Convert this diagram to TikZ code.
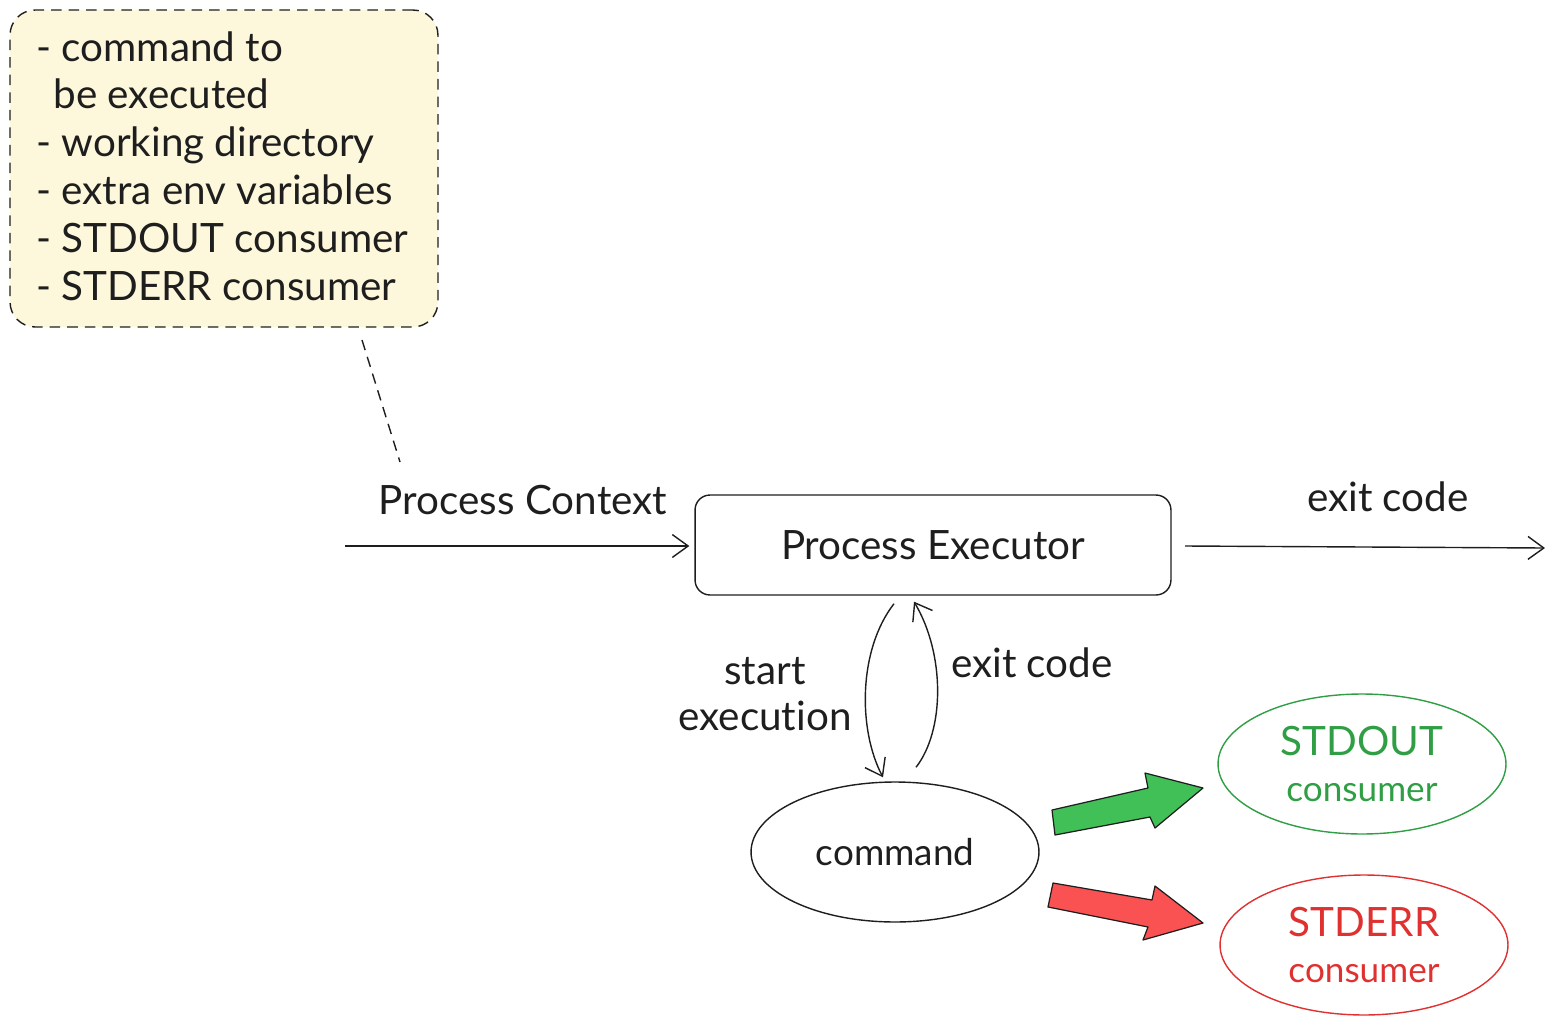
\documentclass[tikz,border=0pt]{standalone}
\usepackage{fontspec}
\setmainfont{Lato}[Ligatures={NoCommon}]
\usetikzlibrary{shapes.geometric,arrows.meta,calc}
\definecolor{notefill}{HTML}{FDF8DB}
\definecolor{okgreen}{HTML}{2F9E44}
\definecolor{okfill}{HTML}{40C057}
\definecolor{errred}{HTML}{E03131}
\definecolor{errfill}{HTML}{FA5252}
\definecolor{ink}{HTML}{1E1E1E}
\tikzset{
  lbl/.style={font=\fontsize{23}{27}\selectfont, text=ink, inner sep=0pt},
  oval/.style={ellipse, draw=ink, line width=0.8pt, minimum width=5.76cm, minimum height=2.8cm, inner sep=0pt},
  flow/.style={draw=ink, line width=0.8pt, -{Straight Barb[length=9pt,width=13pt,line width=0.8pt]}},
  blockarrow/.style={draw=ink, line width=0.7pt, line join=round},
}
\begin{document}
\begin{tikzpicture}[x=0.02cm,y=-0.02cm]
\useasboundingbox (0,0) rectangle (1553,1025);

% note
\node[draw=ink, dashed, dash pattern=on 6pt off 4pt, line width=0.8pt, fill=notefill, rounded corners=0.5cm,
      minimum width=8.56cm, minimum height=6.34cm, inner sep=0pt] (note) at (224,168.5) {};
\node[lbl, anchor=north west, align=left, font=\fontsize{23}{27.2}\selectfont] (notetext) at (36,31)
  {- command to\\\ \,be executed\\- working directory\\- extra env variables\\- STDOUT consumer\\- STDERR consumer};

\coordinate (d1) at (362,340);
\coordinate (d2) at (400,462);
\draw[ink, dashed, dash pattern=on 6pt off 4pt, line width=0.8pt] (d1) -- (d2);

% executor
\node[draw=ink, line width=0.8pt, rounded corners=0.3cm, minimum width=9.52cm, minimum height=2cm, lbl] (exec) at (933,545) {Process Executor};

\node[lbl] (pclabel) at (523,500) {Process Context};
\coordinate (in) at (345,546);
\draw[flow] (in) -- ($(exec.west)+(-5,1)$);

\coordinate (exitstart) at (1185,546);
\coordinate (out) at (1545,548);
\draw[flow] (exitstart) -- (out);
\node[lbl] (exitlabel) at (1388,497) {exit code};

% command
\node[oval, lbl, font=\fontsize{21}{25}\selectfont] (cmd) at (895,852) {command};

\draw[flow] ($(exec.south)+(-39,8)$) .. controls (858,650) and (858,730) .. ($(cmd.north)+(-12,-4)$);
\draw[flow] ($(cmd.north)+(21,-14)$) .. controls (945,730) and (945,654) .. ($(exec.south)+(-19,6)$);

\node[lbl, align=center, font=\fontsize{23}{26}\selectfont] (startlbl) at (765,694) {start\\execution};
\node[lbl] (exitlbl2) at (1032,663) {exit code};

% consumers
\node[oval, draw=okgreen, align=center, text=okgreen, font=\fontsize{20}{26}\selectfont] (out1) at (1362,764)
  {{\fontsize{23}{26}\selectfont STDOUT}\\consumer};
\node[oval, draw=errred, align=center, text=errred, font=\fontsize{20}{26}\selectfont] (err1) at (1364,945)
  {{\fontsize{23}{26}\selectfont STDERR}\\consumer};

% block arrows
\draw[blockarrow, fill=okfill] (1052,810) -- (1148,788) -- (1145,773) -- (1203,788) -- (1155,828) -- (1150,817) -- (1055,835) -- cycle;
\draw[blockarrow, fill=errfill] (1053,883) -- (1152,900) -- (1155,886) -- (1203,923) -- (1143,940) -- (1148,927) -- (1048,907) -- cycle;

\end{tikzpicture}
\end{document}
